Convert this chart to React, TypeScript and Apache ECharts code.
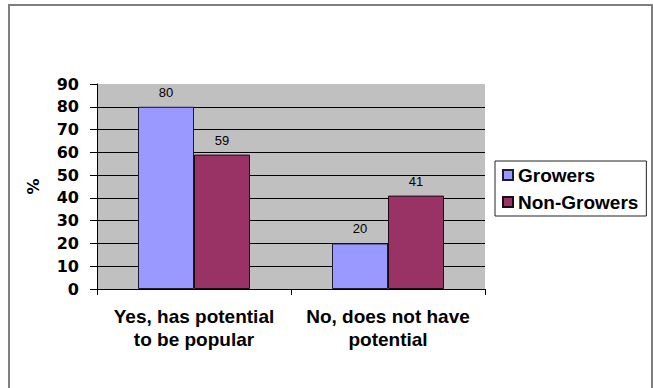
import React, { useEffect, useRef } from "react";
import * as echarts from "echarts";

const categories = ["Yes, has potential\nto be popular", "No, does not have\npotential"];
const growers = [80, 20];
const nonGrowers = [59, 41];
const seriesNames = ["Growers", "Non-Growers"];

export default function App() {
  const ref = useRef<HTMLDivElement>(null);

  useEffect(() => {
    if (!ref.current) return;
    const chart = echarts.init(ref.current, null, { renderer: "svg" });
    const valueLabel = {
      show: true,
      position: "top" as const,
      distance: 8,
      color: "#000",
      fontFamily: "Liberation Sans, Arial, sans-serif",
      fontSize: 13,
    };
    chart.setOption({
      animation: false,
      backgroundColor: "#ffffff",
      graphic: [
        {
          type: "rect",
          shape: { x: 9, y: 5, width: 643, height: 400 },
          style: { fill: "none", stroke: "#7f7f7f", lineWidth: 2 },
          silent: true,
        },
      ],
      grid: { left: 97, top: 84, width: 388, height: 205, show: true, backgroundColor: "#c0c0c0", borderWidth: 0 },
      legend: {
        orient: "vertical",
        left: 495,
        top: 161,
        padding: [4, 8, 4, 7],
        itemWidth: 10,
        itemHeight: 10,
        itemGap: 7,
        borderColor: "#222",
        borderWidth: 1,
        icon: "rect",
        data: seriesNames,
        textStyle: {
          color: "#000",
          fontFamily: "Liberation Sans, Arial, sans-serif",
          fontWeight: "bold",
          fontSize: 19,
          lineHeight: 20,
        },
      },
      xAxis: {
        type: "category",
        data: categories,
        axisLine: { show: true, lineStyle: { color: "#000", width: 1 } },
        axisTick: { show: true, length: 6, alignWithLabel: false, lineStyle: { color: "#000" } },
        axisLabel: {
          color: "#000",
          fontFamily: "Liberation Sans, Arial, sans-serif",
          fontWeight: "bold",
          fontSize: 19,
          lineHeight: 23,
          margin: 16,
          interval: 0,
        },
        splitLine: { show: false },
      },
      yAxis: {
        type: "value",
        min: 0,
        max: 90,
        interval: 10,
        name: "%",
        nameLocation: "middle",
        nameRotate: 90,
        nameGap: 56,
        nameTextStyle: {
          color: "#000",
          fontFamily: "DejaVu Sans, sans-serif",
          fontWeight: "bold",
          fontSize: 16,
        },
        axisLine: { show: true, lineStyle: { color: "#000", width: 1 } },
        axisTick: { show: true, length: 7, lineStyle: { color: "#000" } },
        axisLabel: {
          color: "#000",
          fontFamily: "DejaVu Sans, sans-serif",
          fontWeight: "bold",
          fontSize: 16,
          margin: 18,
        },
        splitLine: { show: true, showMaxLine: false, lineStyle: { color: "#000", width: 1 } },
      },
      series: [
        {
          name: seriesNames[0],
          type: "bar",
          data: growers,
          barWidth: 56,
          barGap: "0%",
          itemStyle: { color: "#9999ff", borderColor: "#1a1a33", borderWidth: 1 },
          label: valueLabel,
        },
        {
          name: seriesNames[1],
          type: "bar",
          data: nonGrowers,
          barWidth: 56,
          barGap: "0%",
          itemStyle: { color: "#993366", borderColor: "#1a0a12", borderWidth: 1 },
          label: valueLabel,
        },
      ],
    });
    return () => chart.dispose();
  }, []);

  return (
    <div
      ref={ref}
      style={{ position: "fixed", left: 0, top: 0, width: 653, height: 388 }}
    />
  );
}
